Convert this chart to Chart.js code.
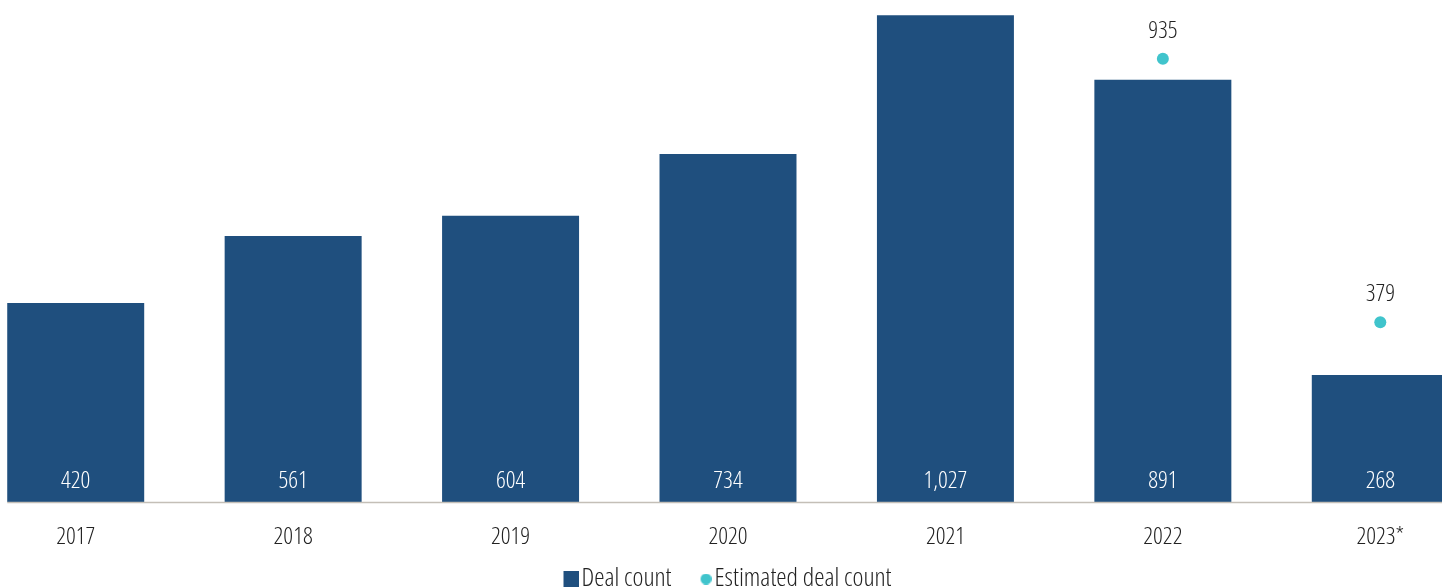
<!DOCTYPE html>
<html>
<head>
<meta charset="utf-8">
<script src="https://cdn.jsdelivr.net/npm/chart.js@4"></script>
<style>
  html, body { margin: 0; padding: 0; background: #fff; overflow: hidden; }
  body { width: 1442px; height: 587px; position: relative; }
  #myChart { position: absolute; left: -33px; top: 0; }
</style>
</head>
<body>
<canvas id="myChart" width="1522" height="602"></canvas>
<script>
const years = ['2017', '2018', '2019', '2020', '2021', '2022', '2023*'];
const dealCount = [420, 561, 604, 734, 1027, 891, 268];
const estimatedCount = [null, null, null, null, null, 935, 379];

const FAMILY = '"Open Sans", sans-serif';
const WEIGHT = '300 condensed'; // ends up in the canvas font string, gives the narrow light face
const FONT_SIZE = 24;
const LEGEND_SIZE = 26;
const BAR_COLOR = '#1f4f7e';
const DOT_COLOR = '#40c4cc';

// legend markers: drawn on the right side of a wider transparent canvas so
// they sit close to their text, like the original
function legendIcon(kind) {
  const c = document.createElement('canvas');
  const g = c.getContext('2d');
  if (kind === 'rect') {
    c.width = 42; c.height = 16;
    g.fillStyle = BAR_COLOR;
    g.fillRect(26, 0, 16, 16);
  } else {
    c.width = 40; c.height = 11;
    g.fillStyle = DOT_COLOR;
    g.beginPath();
    g.arc(34.5, 5.5, 5.5, 0, Math.PI * 2);
    g.fill();
  }
  return c;
}
const icons = [legendIcon('rect'), legendIcon('circle')];

// values inside the bars and above the estimate dots, plus the baseline
const labelsPlugin = {
  id: 'labels',
  afterLayout(chart) {
    // nudge the legend a little left to line up with the original
    chart.legend.left -= 8;
    chart.legend.right -= 8;
  },
  afterDatasetsDraw(chart) {
    const ctx = chart.ctx;
    const area = chart.chartArea;
    const bars = chart.getDatasetMeta(0).data;

    ctx.save();
    ctx.strokeStyle = '#c4bfb7';
    ctx.lineWidth = 1.5;
    ctx.beginPath();
    ctx.moveTo(bars[0].x - bars[0].width / 2, area.bottom + 0.5);
    ctx.lineTo(area.right, area.bottom + 0.5);
    ctx.stroke();

    ctx.font = WEIGHT + ' ' + FONT_SIZE + 'px ' + FAMILY;
    ctx.textAlign = 'center';
    ctx.textBaseline = 'middle';
    ctx.fillStyle = '#ffffff';
    bars.forEach((bar, i) => {
      ctx.fillText(dealCount[i].toLocaleString('en-US'), bar.x, area.bottom - 21);
    });

    ctx.fillStyle = '#222222';
    chart.getDatasetMeta(1).data.forEach((pt, i) => {
      if (estimatedCount[i] == null) return;
      ctx.fillText(estimatedCount[i].toLocaleString('en-US'), pt.x, pt.y - 28);
    });
    ctx.restore();
  }
};

new Chart(document.getElementById('myChart'), {
  type: 'bar',
  data: {
    labels: years,
    datasets: [
      {
        label: 'Deal count',
        data: dealCount,
        backgroundColor: BAR_COLOR,
        barPercentage: 0.63,
        categoryPercentage: 1
      },
      {
        type: 'line',
        label: 'Estimated deal count',
        data: estimatedCount,
        showLine: false,
        pointRadius: 6,
        pointHoverRadius: 6,
        pointBackgroundColor: DOT_COLOR,
        pointBorderWidth: 0,
        backgroundColor: DOT_COLOR,
        borderColor: DOT_COLOR
      }
    ]
  },
  options: {
    responsive: false,
    devicePixelRatio: 1,
    animation: false,
    layout: { padding: 0, autoPadding: false },
    plugins: {
      tooltip: { enabled: false },
      legend: {
        position: 'bottom',
        labels: {
          usePointStyle: true,
          boxWidth: 20,
          boxHeight: 16,
          color: '#222',
          font: { family: FAMILY, size: LEGEND_SIZE, weight: WEIGHT },
          padding: 10,
          generateLabels(chart) {
            return chart.data.datasets.map((ds, i) => ({
              text: ds.label,
              datasetIndex: i,
              pointStyle: icons[i],
              fillStyle: ds.backgroundColor,
              strokeStyle: ds.backgroundColor,
              lineWidth: 0,
              fontColor: '#222',
              hidden: false
            }));
          }
        }
      }
    },
    scales: {
      x: {
        grid: { display: false, drawTicks: false },
        border: { display: false },
        ticks: { color: '#222', font: { family: FAMILY, size: FONT_SIZE, weight: WEIGHT }, padding: 21 },
        afterFit(scale) { scale.height = 54; }
      },
      y: {
        display: false,
        min: 0,
        max: 1059
      }
    }
  },
  plugins: [labelsPlugin]
});
</script>
</body>
</html>
